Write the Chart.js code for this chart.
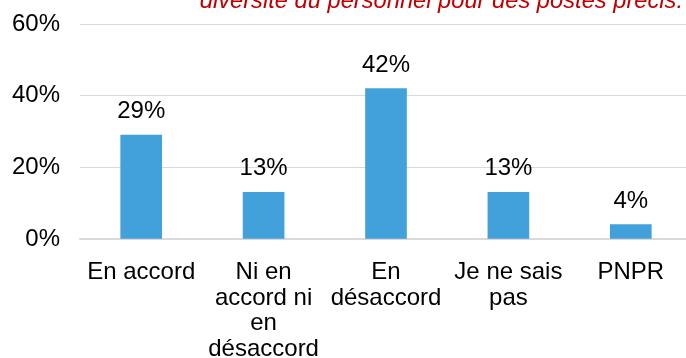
<!DOCTYPE html>
<html>
<head>
<meta charset="utf-8">
<script src="https://cdn.jsdelivr.net/npm/chart.js@4/dist/chart.umd.min.js"></script>
<style>
  html, body { margin: 0; padding: 0; background: #fff; overflow: hidden; }
  #wrap { position: relative; width: 700px; height: 358px; }
  #titre {
    position: absolute; right: 17px; top: -12px;
    font: italic 23.7px "Liberation Sans", Arial, sans-serif; line-height: 24px;
    color: #c00000; white-space: nowrap;
  }
</style>
</head>
<body>
<div id="wrap">
  <div id="titre">diversité du personnel pour des postes précis.</div>
  <canvas id="chart" width="700" height="358"></canvas>
</div>
<script>

/* DONNEES */

const categories = [
    "En accord",
    ["Ni en", "accord ni", "en", "désaccord"],
    ["En", "désaccord"],
    ["Je ne sais", "pas"],
    "PNPR"
];

const pourcentages = [29, 13, 42, 13, 4];

const yTicks = [0, 20, 40, 60];

/* ETIQUETTES DES BARRES */

const etiquettes = {
    id: 'etiquettes',
    afterDatasetsDraw(chart){
        const ctx = chart.ctx;
        const meta = chart.getDatasetMeta(0);
        ctx.save();
        ctx.font = '24px "Liberation Sans", Arial, sans-serif';
        ctx.fillStyle = '#000';
        ctx.textAlign = 'center';
        ctx.textBaseline = 'alphabetic';
        meta.data.forEach((bar, i) => {
            ctx.fillText(pourcentages[i] + '%', bar.x, bar.y - 17);
        });
        ctx.restore();
    }
};

/* GRAPHIQUE */

new Chart(document.getElementById('chart'), {

    type: 'bar',

    data: {
        labels: categories,
        datasets: [{
            data: pourcentages,
            backgroundColor: '#42a0da',
            barThickness: 41
        }]
    },

    plugins: [etiquettes],

    options: {
        responsive: false,
        animation: false,
        layout: { padding: { top: 24, right: 8, left: 0, bottom: 0 } },
        plugins: {
            legend: { display: false },
            tooltip: { enabled: false }
        },
        scales: {
            x: {
                grid: { display: false, drawTicks: false },
                border: { display: true, color: '#d9d9d9', width: 1.5 },
                ticks: {
                    color: '#000',
                    padding: 20,
                    maxRotation: 0,
                    autoSkip: false,
                    font: { family: '"Liberation Sans", Arial, sans-serif', size: 24, lineHeight: 1.08 }
                },
                afterFit(scale){ scale.height = 119; }
            },
            y: {
                min: 0,
                max: 60,
                afterBuildTicks(scale){ scale.ticks = yTicks.map(v => ({ value: v })); },
                grid: { color: '#d9d9d9', drawTicks: false },
                border: { display: false },
                ticks: {
                    color: '#000',
                    padding: 20,
                    callback: v => v + '%',
                    font: { family: '"Liberation Sans", Arial, sans-serif', size: 24 }
                },
                // largeur fixe, pas de marge verticale ajoutee par les etiquettes
                afterFit(scale){
                    scale.width = 80;
                    scale.paddingTop = 0;
                    scale.paddingBottom = 0;
                }
            }
        }
    }

});

</script>
</body>
</html>
